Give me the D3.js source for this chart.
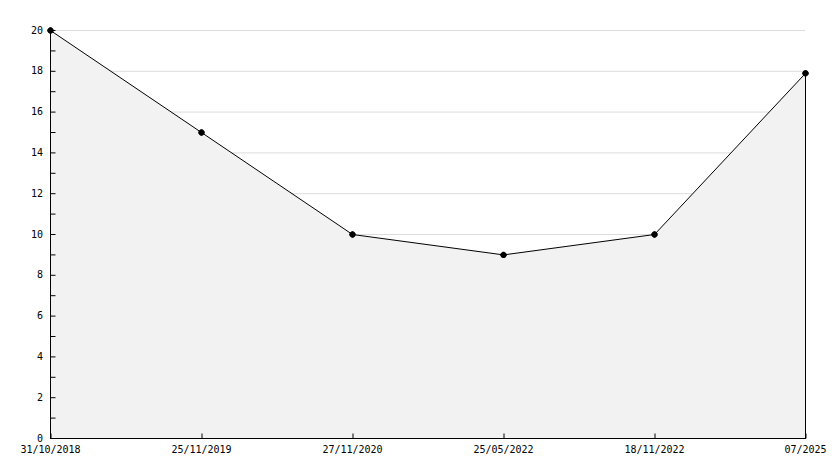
<!DOCTYPE html>
<html><head><meta charset="utf-8">
<script src="https://cdn.jsdelivr.net/npm/d3@7"></script>
<style>body{margin:0;background:#fff}svg{display:block}</style>
</head><body>
<script>
const categories = ["31/10/2018","25/11/2019","27/11/2020","25/05/2022","18/11/2022","07/2025"];
const values = [20, 15, 10, 9, 10, 17.9];
const yTicks = [0,2,4,6,8,10,12,14,16,18,20];
const yMinor = [1,3,5,7,9,11,13,15,17,19];

const W=834,H=468, L=50, R=805, T=30, B=438;
const svg=d3.select("body").append("svg").attr("width",W).attr("height",H);
const x=d3.scalePoint().domain(categories).range([L,R]);
const y=d3.scaleLinear().domain([0,20]).range([B,T]);
const font="'DejaVu Sans Mono', monospace";

// grid
svg.append("g").selectAll("line").data(yTicks.filter(d=>d>0)).join("line")
  .attr("x1",L).attr("x2",R).attr("y1",d=>y(d)+0.5).attr("y2",d=>y(d)+0.5)
  .attr("stroke","#dcdcdc").attr("stroke-width",1);

const data=categories.map((c,i)=>({c,v:values[i]}));
svg.append("path").datum(data)
  .attr("d",d3.area().x(d=>x(d.c)+0.5).y0(B).y1(d=>y(d.v)+0.5))
  .attr("fill","#f2f2f2");
svg.append("path").datum(data)
  .attr("d",d3.line().x(d=>x(d.c)+0.5).y(d=>y(d.v)+0.5))
  .attr("fill","none").attr("stroke","#000").attr("stroke-width",1);
// right edge of area
svg.append("line").attr("x1",x(categories[categories.length-1])+0.5).attr("x2",x(categories[categories.length-1])+0.5)
  .attr("y1",y(values[values.length-1])).attr("y2",B).attr("stroke","#000");

// y axis
const ya=d3.axisRight(y).tickValues(yTicks).tickSize(5).tickFormat("");
const gy=svg.append("g").attr("transform",`translate(${L+0.5},0)`).call(ya);
gy.select(".domain").remove();
svg.append("g").attr("transform",`translate(${L+0.5},0)`)
  .call(d3.axisRight(y).tickValues(yMinor).tickSize(5).tickFormat("")).select(".domain").remove();
svg.append("line").attr("x1",L+0.5).attr("x2",L+0.5).attr("y1",T).attr("y2",B+0.5).attr("stroke","#000");
svg.append("g").selectAll("text").data(yTicks).join("text")
  .attr("x",L-7).attr("y",d=>y(d)).attr("dy","0.35em").attr("text-anchor","end")
  .attr("font-family",font).attr("font-size",10).attr("fill","#000").text(d=>d);

// x axis
const gx=svg.append("g").attr("transform",`translate(0,${B+0.5})`)
  .call(d3.axisTop(x).tickSize(5).tickFormat(""));
gx.select(".domain").remove();
gx.selectAll(".tick line").attr("transform","translate(0.5,0)");
svg.append("line").attr("x1",L).attr("x2",R+1).attr("y1",B+0.5).attr("y2",B+0.5).attr("stroke","#000");
svg.append("g").selectAll("text").data(categories).join("text")
  .attr("x",d=>x(d)+0.5).attr("y",B+11).attr("dy","0.35em").attr("text-anchor","middle")
  .attr("font-family",font).attr("font-size",10).attr("fill","#000").text(d=>d);

// markers
svg.append("g").selectAll("circle").data(data).join("circle")
  .attr("cx",d=>x(d.c)+0.5).attr("cy",d=>y(d.v)+0.5).attr("r",3).attr("fill","#000");
svg.append("g").selectAll("path").data(data).join("path")
  .attr("transform",d=>`translate(${x(d.c)+0.5},${y(d.v)+0.5})`)
  .attr("d",d3.symbol(d3.symbolCross,22)).attr("fill","#000");
</script>
</body></html>
